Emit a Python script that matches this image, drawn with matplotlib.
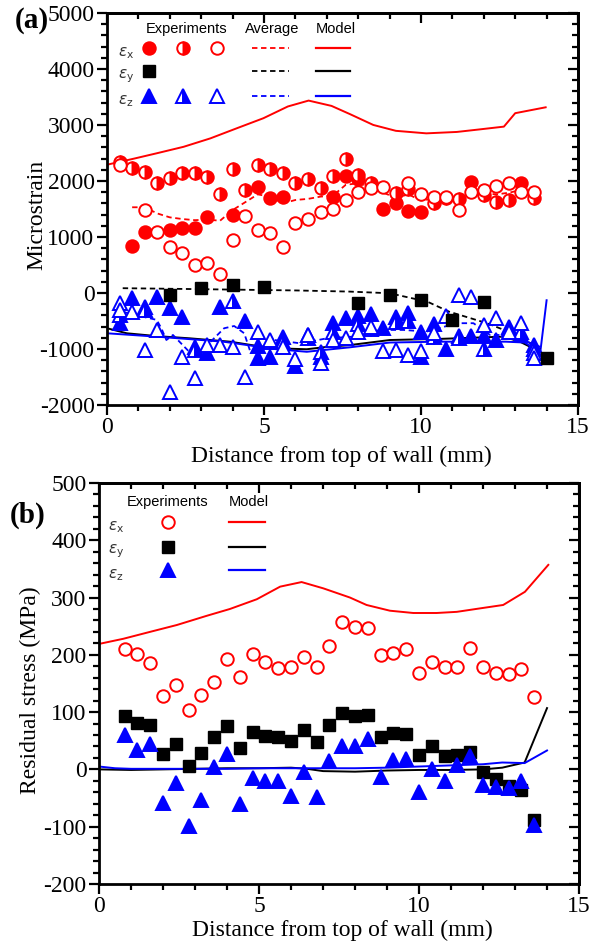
import matplotlib
matplotlib.use("Agg")
import matplotlib.pyplot as plt
from matplotlib.ticker import MultipleLocator

plt.rcParams["font.family"] = "Liberation Serif"
plt.rcParams["axes.unicode_minus"] = False
plt.rcParams["mathtext.fontset"] = "dejavusans"

RED = "#ff0000"
BLACK = "#000000"
BLUE = "#0000ff"

# ---------------- (a) strain ----------------
# eps_x experiments (three specimens)
exa_full_x = [0.8, 1.2, 2.0, 2.4, 2.8, 3.2, 4.0, 4.8, 5.2, 5.6, 7.2, 7.6, 8.0, 8.8, 9.2, 9.6, 10.0, 11.6, 13.2]
exa_full_y = [830, 1095, 1125, 1155, 1155, 1365, 1395, 1890, 1690, 1720, 1720, 2080, 2030, 1495, 1615, 1470, 1440, 1980, 1960]
exa_half_x = [0.4, 0.8, 1.2, 1.6, 2.0, 2.4, 2.8, 3.2, 3.6, 4.0, 4.4, 4.8, 5.2, 5.6, 6.0, 6.4, 6.8, 7.2, 7.6,
              8.0, 8.4, 9.2, 9.6, 10.4, 10.8, 11.2, 12.0, 12.4, 12.8, 13.6]
exa_half_y = [2345, 2225, 2165, 1960, 2050, 2135, 2135, 2065, 1765, 2215, 1840, 2285, 2210, 2150, 1960, 2030,
              1870, 2090, 2390, 2110, 1960, 1790, 1850, 1610, 1700, 1675, 1750, 1630, 1660, 1690]
exa_open_x = [0.4, 1.2, 1.6, 2.0, 2.4, 2.8, 3.2, 3.6, 4.0, 4.4, 4.8, 5.2, 5.6, 6.0, 6.4, 6.8, 7.2, 7.6, 8.0,
              8.4, 8.8, 9.6, 10.0, 10.4, 10.8, 11.2, 11.6, 12.0, 12.4, 12.8, 13.2, 13.6]
exa_open_y = [2285, 1480, 1095, 815, 710, 500, 530, 340, 945, 1375, 1125, 1065, 825, 1245, 1315, 1450, 1495,
              1660, 1810, 1870, 1900, 1970, 1770, 1710, 1720, 1480, 1810, 1840, 1910, 1970, 1810, 1810]

# eps_y experiments
eya_x = [2, 3, 4, 5, 8, 9, 10, 11, 12, 14]
eya_y = [-35, 85, 145, 115, -175, -35, -125, -480, -155, -1165]

# eps_z experiments (three specimens)
eza_full_x = [0.4, 0.8, 1.2, 1.6, 2.0, 2.4, 2.8, 3.2, 3.6, 4.4, 4.8, 4.8, 5.2, 5.6, 6.0, 6.4, 6.8, 7.2, 7.6,
              8.0, 8.4, 8.8, 9.2, 9.6, 10.0, 10.0, 10.4, 10.8, 11.2, 11.6, 12.0, 12.4, 12.8, 13.2, 13.6]
eza_full_y = [-540, -95, -245, -65, -275, -435, -970, -1075, -255, -495, -945, -1165, -1135, -790, -1305, -750,
              -1135, -540, -450, -410, -375, -630, -425, -350, -690, -1135, -555, -1005, -770, -770, -770, -840,
              -600, -750, -930]
eza_half_x = [0.4, 1.2, 2.8, 4.0, 5.2, 5.6, 6.4, 6.8, 7.2, 8.0, 8.4, 9.2, 9.6, 10.4, 11.2, 12.0, 12.8, 13.2, 13.6]
eza_half_y = [-400, -300, -1010, -150, -880, -870, -810, -1050, -690, -560, -640, -520, -500, -790, -800, -1000,
              -650, -700, -1000]
eza_open_x = [0.4, 0.4, 0.8, 1.2, 1.6, 2.0, 2.4, 2.8, 3.2, 3.6, 4.0, 4.4, 4.8, 5.2, 5.6, 6.0, 6.4, 6.8, 7.2,
              7.6, 8.0, 8.4, 8.8, 9.2, 9.6, 10.0, 10.4, 10.8, 11.2, 11.6, 12.0, 12.4, 12.8, 13.2, 13.6, 13.6]
eza_open_y = [-185, -305, -335, -1020, -660, -1765, -1135, -1525, -930, -930, -960, -1495, -690, -840, -970,
              -1185, -750, -1245, -840, -810, -690, -600, -1030, -1020, -1105, -1030, -710, -410, -35, -65,
              -570, -450, -690, -530, -1075, -1165]

# averages of the experiments
avg_x_pos = [0.8, 1.2, 1.6, 2.0, 2.4, 2.8, 3.2, 3.6, 4.0, 4.4, 4.8, 5.2, 5.6, 6.0, 6.4, 6.8, 7.2, 7.6, 8.0,
             8.4, 8.8, 9.2, 9.6, 10.0, 10.4, 10.8, 11.2, 11.6, 12.0, 12.4, 12.8, 13.2, 13.6]
avg_x_val = [1530, 1530, 1420, 1350, 1320, 1300, 1310, 1290, 1480, 1620, 1760, 1720, 1600, 1660, 1680, 1720,
             1740, 1930, 1960, 1880, 1790, 1700, 1760, 1650, 1680, 1700, 1640, 1850, 1780, 1760, 1790, 1840, 1770]
avg_y_pos = [0.5, 2.0, 4.0, 6.0, 7.7, 9.0, 10.2, 10.9, 12.1, 13.05, 13.8]
avg_y_val = [85, 75, 60, 45, 25, -5, -155, -335, -540, -750, -1005]
avg_z_pos = [0.25, 0.87, 1.58, 1.73, 1.89, 2.1, 2.66, 2.87, 3.3, 3.73, 4.05, 4.37, 4.58, 4.9, 5.33, 6.17, 7.0,
             7.84, 8.69, 9.44, 10.18, 11.14, 11.67, 12.2, 13.05, 13.37, 13.79]
avg_z_val = [-300, -390, -480, -630, -840, -750, -1075, -1135, -870, -630, -590, -720, -1075, -990, -840, -900,
             -810, -780, -660, -660, -690, -540, -540, -750, -750, -870, -960]

# model strains
mod_x_pos = [0, 0.87, 1.59, 2.44, 3.29, 4.13, 4.98, 5.76, 6.42, 7.15, 7.75, 8.48, 9.2, 10.17, 11.14, 11.86,
             12.64, 13.0, 13.97]
mod_x_val = [2290, 2400, 2495, 2610, 2760, 2940, 3120, 3330, 3435, 3340, 3190, 3000, 2895, 2850, 2875, 2920,
             2970, 3210, 3315]
mod_y_pos = [0, 0.63, 1.58, 2.64, 3.92, 4.77, 5.51, 6.36, 6.89, 7.74, 9.01, 10.6, 12.62, 13.15, 13.79]
mod_y_val = [-630, -720, -770, -810, -870, -945, -990, -1005, -970, -930, -840, -820, -780, -870, -1050]
mod_z_pos = [0, 1.58, 3.71, 5.4, 6.36, 7.74, 9.01, 10.6, 12.7, 13.3, 13.8, 14.0]
mod_z_val = [-720, -780, -870, -1005, -1050, -970, -885, -870, -870, -885, -1050, -130]

# ---------------- (b) stress ----------------
sb_pos = [0.8, 1.2, 1.6, 2.0, 2.4, 2.8, 3.2, 3.6, 4.0, 4.4, 4.8, 5.2, 5.6, 6.0, 6.4, 6.8, 7.2, 7.6, 8.0,
          8.4, 8.8, 9.2, 9.6, 10.0, 10.4, 10.8, 11.2, 11.6, 12.0, 12.4, 12.8, 13.2, 13.6]
sx_exp = [210, 202, 185, 128, 147, 104, 130, 153, 193, 161, 201, 187, 177, 179, 196, 179, 216, 258, 249,
          246, 199, 204, 211, 169, 188, 178, 178, 212, 178, 169, 167, 175, 127]
sy_exp = [93, 81, 78, 27, 45, 6, 28, 56, 76, 37, 65, 59, 56, 49, 68, 47, 78, 98, 93, 95, 56, 63, 62, 25,
          40, 24, 25, 31, -4, -17, -29, -36, -88]
sz_exp = [60, 34, 45, -59, -23, -99, -54, 4, 27, -60, -15, -20, -20, -46, -4, -49, 14, 40, 40, 53, -13,
          17, 18, -39, 0, -21, 8, 24, -27, -30, -33, -21, -97]

smod_x_pos = [0, 0.76, 1.59, 2.43, 3.36, 4.09, 4.93, 5.66, 6.33, 7.01, 7.84, 8.36, 9.09, 9.82, 10.55, 11.18,
              11.9, 12.63, 13.31, 14.04]
smod_x_val = [219, 228, 240, 252, 268, 280, 297, 319, 327, 316, 300, 287, 277, 273, 273, 275, 281, 287, 310, 357]
smod_y_pos = [0, 1, 2, 3, 4, 5, 6, 6.5, 7, 8, 9, 10, 11, 12, 12.6, 13.3, 14.0]
smod_y_val = [0, -1, 0, 1, 2, 2, 3, 1, -3, -4, -2, -1, -1, 0, 3, 12, 107]
smod_z_pos = [0, 0.5, 1, 2, 3, 4, 5, 6, 7, 8, 9, 10, 11, 12, 12.6, 13.3, 14.0]
smod_z_val = [5, 2, 1, 1, 1, 1, 2, 2, 2, 2, 3, 5, 7, 9, 12, 11, 33]


def frame(ax, ylim, ymajor, yminor):
    ax.set_xlim(0, 15)
    ax.set_ylim(*ylim)
    ax.xaxis.set_major_locator(MultipleLocator(5))
    ax.xaxis.set_minor_locator(MultipleLocator(1))
    ax.yaxis.set_major_locator(MultipleLocator(ymajor))
    ax.yaxis.set_minor_locator(MultipleLocator(yminor))
    ax.tick_params(which="both", direction="out", width=1.6, labelsize=17, pad=2)
    ax.tick_params(which="major", length=7)
    ax.tick_params(which="minor", length=4)
    for sp in ax.spines.values():
        sp.set_linewidth(2)
    top = ax.secondary_xaxis("top")
    top.xaxis.set_major_locator(MultipleLocator(5))
    top.xaxis.set_minor_locator(MultipleLocator(1))
    top.tick_params(which="both", direction="in", width=1.6, labeltop=False)
    top.tick_params(which="major", length=7)
    top.tick_params(which="minor", length=4)
    right = ax.secondary_yaxis("right")
    right.yaxis.set_major_locator(MultipleLocator(ymajor))
    right.yaxis.set_minor_locator(MultipleLocator(yminor))
    right.tick_params(which="both", direction="in", width=1.6, labelright=False)
    right.tick_params(which="major", length=7)
    right.tick_params(which="minor", length=4)
    for s in (top, right):
        for sp in s.spines.values():
            sp.set_linewidth(2)


def key(ax, x, y, **kw):
    ax.plot(x, y, transform=ax.transAxes, clip_on=False, **kw)


def eps_label(ax, x, y, sub):
    ax.text(x, y, r"$\varepsilon_{\rm %s}$" % sub, transform=ax.transAxes, fontsize=11,
            color="#333333", ha="center", va="center")


fig = plt.figure(figsize=(6.06, 9.44), dpi=100)
ax1 = fig.add_axes([0.1766, 0.5710, 0.7772, 0.4153])
ax2 = fig.add_axes([0.1634, 0.0636, 0.7921, 0.4248])

circ = dict(marker="o", ms=9, ls="none", mew=1.4)
tri = dict(marker="^", ms=10, ls="none", mew=1.4)
sq = dict(marker="s", ms=8.5, ls="none")

# ---- panel (a)
ax1.plot(mod_x_pos, mod_x_val, color=RED, lw=1.4, zorder=2)
ax1.plot(mod_y_pos, mod_y_val, color=BLACK, lw=1.4, zorder=2)
ax1.plot(mod_z_pos, mod_z_val, color=BLUE, lw=1.4, zorder=2)
ax1.plot(avg_x_pos, avg_x_val, color=RED, lw=1.3, ls=(0, (3, 2)), zorder=2)
ax1.plot(avg_y_pos, avg_y_val, color=BLACK, lw=1.3, ls=(0, (3, 2)), zorder=2)
ax1.plot(avg_z_pos, avg_z_val, color=BLUE, lw=1.3, ls=(0, (3, 2)), zorder=2)

ax1.plot(exa_full_x, exa_full_y, color=RED, **circ, zorder=3)
ax1.plot(exa_half_x, exa_half_y, color=RED, mfc=RED, mfcalt="white", fillstyle="right", **circ, zorder=3)
ax1.plot(exa_open_x, exa_open_y, color=RED, mfc="white", **circ, zorder=3)
ax1.plot(eza_full_x, eza_full_y, color=BLUE, **tri, zorder=3)
ax1.plot(eza_half_x, eza_half_y, color=BLUE, mfc=BLUE, mfcalt="white", fillstyle="right", **tri, zorder=3)
ax1.plot(eza_open_x, eza_open_y, color=BLUE, mfc="white", **tri, zorder=3)
ax1.plot(eya_x, eya_y, color=BLACK, **sq, zorder=4)

frame(ax1, (-2000, 5000), 1000, 200)
ax1.set_xlabel("Distance from top of wall (mm)", fontsize=17)
ax1.set_ylabel("Microstrain", fontsize=17)
ax1.xaxis.set_label_coords(0.497, -0.105)
ax1.yaxis.set_label_coords(-0.127, 0.485)

# legend block of (a)
sans = dict(family="Liberation Sans", fontsize=10.5, transform=ax1.transAxes, ha="center", va="center")
ax1.text(0.168, 0.958, "Experiments", **sans)
ax1.text(0.350, 0.958, "Average", **sans)
ax1.text(0.486, 0.958, "Model", **sans)
rows = [0.910, 0.851, 0.787]
for row, sub, col in zip(rows, "xyz", (RED, BLACK, BLUE)):
    eps_label(ax1, 0.040, row - 0.012, sub)
    key(ax1, [0.308, 0.386], [row, row], color=col, lw=1.3, ls=(0, (3, 2)))
    key(ax1, [0.443, 0.516], [row, row], color=col, lw=1.6)
key(ax1, [0.090], [rows[0]], color=RED, **circ)
key(ax1, [0.162], [rows[0]], color=RED, mfc=RED, mfcalt="white", fillstyle="right", **circ)
key(ax1, [0.234], [rows[0]], color=RED, mfc="white", **circ)
key(ax1, [0.090], [rows[1]], color=BLACK, **sq)
key(ax1, [0.090], [rows[2]], color=BLUE, **tri)
key(ax1, [0.162], [rows[2]], color=BLUE, mfc=BLUE, mfcalt="white", fillstyle="right", **tri)
key(ax1, [0.234], [rows[2]], color=BLUE, mfc="white", **tri)

# ---- panel (b)
ax2.plot(smod_x_pos, smod_x_val, color=RED, lw=1.4, zorder=2)
ax2.plot(smod_y_pos, smod_y_val, color=BLACK, lw=1.4, zorder=2)
ax2.plot(smod_z_pos, smod_z_val, color=BLUE, lw=1.4, zorder=2)
ax2.plot(sb_pos, sx_exp, color=RED, mfc="white", **circ, zorder=3)
ax2.plot(sb_pos, sy_exp, color=BLACK, **sq, zorder=3)
ax2.plot(sb_pos, sz_exp, color=BLUE, **tri, zorder=4)

frame(ax2, (-200, 500), 100, 20)
ax2.set_xlabel("Distance from top of wall (mm)", fontsize=17)
ax2.set_ylabel("Residual stress (MPa)", fontsize=17)
ax2.xaxis.set_label_coords(0.506, -0.09)
ax2.yaxis.set_label_coords(-0.121, 0.484)

sans = dict(family="Liberation Sans", fontsize=10.5, transform=ax2.transAxes, ha="center", va="center")
ax2.text(0.143, 0.953, "Experiments", **sans)
ax2.text(0.3125, 0.953, "Model", **sans)
rows = [0.903, 0.841, 0.783]
for row, sub, col in zip(rows, "xyz", (RED, BLACK, BLUE)):
    eps_label(ax2, 0.035, row - 0.012, sub)
    key(ax2, [0.271, 0.346], [row, row], color=col, lw=1.6)
key(ax2, [0.144], [rows[0]], color=RED, mfc="white", **circ)
key(ax2, [0.144], [rows[1]], color=BLACK, **sq)
key(ax2, [0.144], [rows[2]], color=BLUE, **tri)

fig.text(32 / 606, 1 - 20 / 944, "(a)", fontsize=21, fontweight="bold", ha="center", va="center")
fig.text(28 / 606, 1 - 515 / 944, "(b)", fontsize=21, fontweight="bold", ha="center", va="center")

fig.savefig("out.png", dpi=100)
